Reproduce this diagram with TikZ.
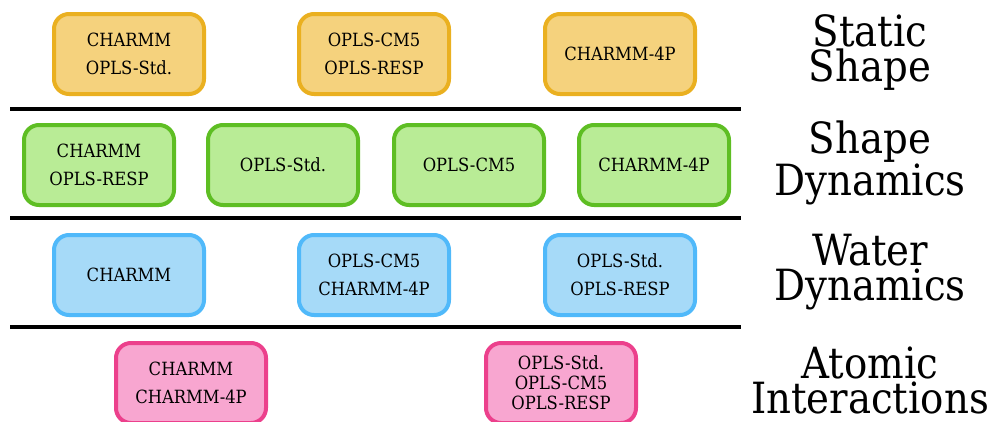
\documentclass[tikz,border=0pt]{standalone}
\usepackage{fontspec}
\setmainfont{DejaVu Serif Condensed}
\usepackage{tikz}

\definecolor{orfill}{RGB}{245,210,125}
\definecolor{ordraw}{RGB}{234,176,32}
\definecolor{grfill}{RGB}{185,236,150}
\definecolor{grdraw}{RGB}{94,190,35}
\definecolor{blfill}{RGB}{166,218,248}
\definecolor{bldraw}{RGB}{80,185,250}
\definecolor{pkfill}{RGB}{248,166,208}
\definecolor{pkdraw}{RGB}{236,64,140}

\tikzset{
	ffbox/.style={draw, line width=4pt, rounded corners=15pt, minimum width=150pt, minimum height=80pt, inner sep=0pt, align=center, font=\fontsize{18.2}{28}\selectfont},
	tight/.style={font=\fontsize{18.2}{20}\selectfont},
	rowlabel/.style={align=center, font=\fontsize{43}{35}\selectfont},
	sep/.style={line width=4pt}
}

\begin{document}
\begin{tikzpicture}[x=1pt, y=-1pt]
	\useasboundingbox (0, 0) rectangle (993, 421);
	% static shape
	\node[ffbox, fill=orfill, draw=ordraw] (ss1) at (129, 54) {CHARMM\\OPLS-Std.};
	\node[ffbox, fill=orfill, draw=ordraw] (ss2) at (374, 54) {OPLS-CM5\\OPLS-RESP};
	\node[ffbox, fill=orfill, draw=ordraw] (ss3) at (620, 54) {CHARMM-4P};
	\node[rowlabel] (lss) at (870, 53) {Static\\Shape};
	\draw[sep] (10, 109) -- (741, 109);
	% shape dynamics
	\node[ffbox, fill=grfill, draw=grdraw] (sd1) at (99, 165) {CHARMM\\OPLS-RESP};
	\node[ffbox, fill=grfill, draw=grdraw] (sd2) at (283, 165) {OPLS-Std.};
	\node[ffbox, fill=grfill, draw=grdraw] (sd3) at (469, 165) {OPLS-CM5};
	\node[ffbox, fill=grfill, draw=grdraw] (sd4) at (654, 165) {CHARMM-4P};
	\node[rowlabel] (lsd) at (870, 163) {Shape\\Dynamics};
	\draw[sep] (10, 218) -- (741, 218);
	% water dynamics
	\node[ffbox, fill=blfill, draw=bldraw] (wd1) at (129, 275) {CHARMM};
	\node[ffbox, fill=blfill, draw=bldraw] (wd2) at (374, 275) {OPLS-CM5\\CHARMM-4P};
	\node[ffbox, fill=blfill, draw=bldraw] (wd3) at (620, 275) {OPLS-Std.\\OPLS-RESP};
	\node[rowlabel] (lwd) at (870, 272) {Water\\Dynamics};
	\draw[sep] (10, 327) -- (741, 327);
	% atomic interactions
	\node[ffbox, fill=pkfill, draw=pkdraw] (ai1) at (191, 383) {CHARMM\\CHARMM-4P};
	\node[ffbox, tight, fill=pkfill, draw=pkdraw] (ai2) at (561, 383) {OPLS-Std.\\OPLS-CM5\\OPLS-RESP};
	\node[rowlabel] (lai) at (870, 380) {Atomic\\Interactions};
\end{tikzpicture}
\end{document}
